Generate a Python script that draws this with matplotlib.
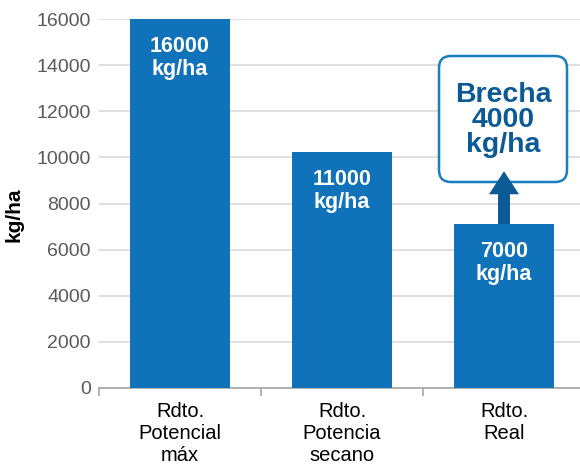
import matplotlib.pyplot as plt
from matplotlib.patches import FancyBboxPatch, FancyArrowPatch
from matplotlib.transforms import IdentityTransform

# Datos
categorias = ["Rdto.\nPotencial\nmáx", "Rdto.\nPotencia\nsecano", "Rdto.\nReal"]
alturas = [16000, 10230, 7110]
etiquetas = ["16000\nkg/ha", "11000\nkg/ha", "7000\nkg/ha"]
yticks = [0, 2000, 4000, 6000, 8000, 10000, 12000, 14000, 16000]
brecha = "Brecha\n4000\nkg/ha"
punta_flecha = 9400

azul = "#1072b8"
azul_osc = "#0b5a96"

plt.rcParams['font.family'] = ['Liberation Sans', 'DejaVu Sans']

fig = plt.figure(figsize=(5.8, 4.7), dpi=100)
ax = fig.add_axes([99 / 580, 1 - 388 / 470, 486 / 580, 369 / 470])

x = range(len(categorias))
ax.bar(x, alturas, width=0.62, color=azul, zorder=3)
ax.set_xlim(-0.5, 2.5)
ax.set_ylim(0, 16000)

# Etiquetas dentro de las barras
for i, h in enumerate(alturas):
    ax.annotate(etiquetas[i], (i, h), xytext=(0, -12), textcoords="offset points",
                ha="center", va="top", color="white", fontsize=15.5,
                fontweight="bold", linespacing=1.15, zorder=4)

# Rejilla y ejes
ax.set_yticks(yticks)
ax.grid(axis="y", color="#d9d9d9", linewidth=1.2, zorder=0)
for s in ["left", "right", "top"]:
    ax.spines[s].set_visible(False)
ax.spines["bottom"].set_color("#a6a6a6")
ax.spines["bottom"].set_linewidth(1.2)
ax.tick_params(axis="y", length=0, pad=6, labelsize=14, labelcolor="#5a5a5a")

ax.set_xticks([-0.5, 0.5, 1.5, 2.5])
ax.set_xticklabels([])
ax.tick_params(axis="x", which="major", length=6, color="#a6a6a6", width=1.2)
ax.set_xticks(list(x), minor=True)
ax.set_xticklabels(categorias, minor=True, fontsize=14.5, linespacing=1.2)
ax.tick_params(axis="x", which="minor", length=0, pad=10)

ax.set_ylabel("kg/ha", fontsize=15, fontweight="bold")
ax.yaxis.set_label_coords(-0.155, 0.47)

# Recuadro de la brecha
caja = FancyBboxPatch((439, 470 - 182), 128, 126,
                      boxstyle="round,pad=0,rounding_size=12",
                      transform=IdentityTransform(), facecolor="white",
                      edgecolor="#1a7fc0", linewidth=1.8, zorder=6, clip_on=False)
ax.add_patch(caja)
ax.text(503 / 580, 1 - 120 / 470, brecha, transform=fig.transFigure,
        ha="center", va="center", fontsize=20.5, fontweight="bold",
        color=azul_osc, linespacing=0.95, zorder=7)

# Flecha por encima del recuadro
flecha = FancyArrowPatch((2, alturas[2]), (2, punta_flecha),
                         arrowstyle="simple,head_width=2.16,head_length=1.66,tail_width=0.86",
                         mutation_scale=10, color=azul_osc, lw=0,
                         shrinkA=0, shrinkB=0, zorder=8, clip_on=False)
ax.add_patch(flecha)

fig.savefig("out.png", dpi=100)
